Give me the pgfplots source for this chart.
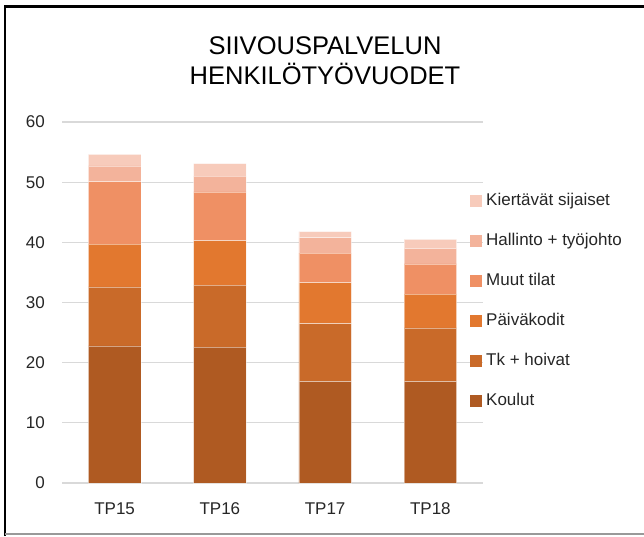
\documentclass[border=0pt]{standalone}
\usepackage{fontspec}
\setmainfont{Liberation Sans}
\usepackage{pgfplots}
\pgfplotsset{compat=1.18}
\definecolor{cKoulut}{HTML}{AF5A22}
\definecolor{cTk}{HTML}{C96A29}
\definecolor{cPaiva}{HTML}{E2782F}
\definecolor{cMuut}{HTML}{EF9064}
\definecolor{cHallinto}{HTML}{F3B39B}
\definecolor{cKiert}{HTML}{F7CBBB}
\definecolor{gridgray}{HTML}{D9D9D9}
\definecolor{txt}{HTML}{262626}
\begin{document}
\begin{tikzpicture}[x=1pt,y=1pt]
\useasboundingbox (0,0) rectangle (644,536);
\fill[white] (0,0) rectangle (644,536);
\draw[black, line width=2.5pt] (5,0) -- (5,529.5) -- (644,529.5);
\draw[gray!80, line width=1.2pt] (5,2) -- (644,2);
\node[anchor=base, font=\fontsize{25.5}{30}\selectfont, text=black, inner sep=0pt] at (325,481) {SIIVOUSPALVELUN};
\node[anchor=base, font=\fontsize{25.5}{30}\selectfont, text=black, inner sep=0pt] at (325,451) {HENKILÖTYÖVUODET};
\begin{axis}[
  at={(62pt,53pt)}, anchor=south west,
  width=421pt, height=361pt, scale only axis,
  ybar stacked, bar width=0.5,
  xmin=-0.5, xmax=3.5, ymin=0, ymax=60,
  ytick={0,10,...,60},
  xtick={0,1,2,3}, xticklabels={TP15,TP16,TP17,TP18},
  /pgf/number format/assume math mode=true,
  ymajorgrids, grid style={color=gridgray, line width=1.2pt},
  axis x line*=bottom, axis y line*=left,
  x axis line style={gridgray, line width=1.2pt, -},
  y axis line style={draw=none},
  major tick length=0pt,
  tick label style={font=\fontsize{17}{20}\selectfont, text=txt},
  yticklabel style={anchor=east, inner sep=0pt, xshift=-17pt},
  xticklabel style={anchor=north, inner sep=0pt, text height=12.5pt, text depth=0pt, yshift=-19pt},
  every axis plot/.append style={draw=white, draw opacity=0.45, line width=0.4pt},
  reverse legend,
  legend image code/.code={\fill[#1,draw=none] (0pt,-6pt) rectangle (12pt,6pt);},
  legend cell align=left,
  legend style={at={(0.962,0.809)}, anchor=north west, draw=none, fill=none,
    font=\fontsize{17}{20}\selectfont, text=txt, row sep=24pt,
    nodes={text height=12pt, text depth=4pt, inner sep=0pt},
    column sep=4pt},
]
\addplot[fill=cKoulut] coordinates {(0,22.8) (1,22.6) (2,16.9) (3,16.9)};
\addlegendentry{Koulut}
\addplot[fill=cTk] coordinates {(0,9.8) (1,10.3) (2,9.6) (3,8.9)};
\addlegendentry{Tk + hoivat}
\addplot[fill=cPaiva] coordinates {(0,7.1) (1,7.4) (2,6.8) (3,5.6)};
\addlegendentry{Päiväkodit}
\addplot[fill=cMuut] coordinates {(0,10.4) (1,8.1) (2,4.9) (3,5.0)};
\addlegendentry{Muut tilat}
\addplot[fill=cHallinto] coordinates {(0,2.6) (1,2.6) (2,2.6) (3,2.6)};
\addlegendentry{Hallinto + työjohto}
\addplot[fill=cKiert] coordinates {(0,1.9) (1,2.1) (2,1.0) (3,1.5)};
\addlegendentry{Kiertävät sijaiset}
\end{axis}
\end{tikzpicture}
\end{document}
